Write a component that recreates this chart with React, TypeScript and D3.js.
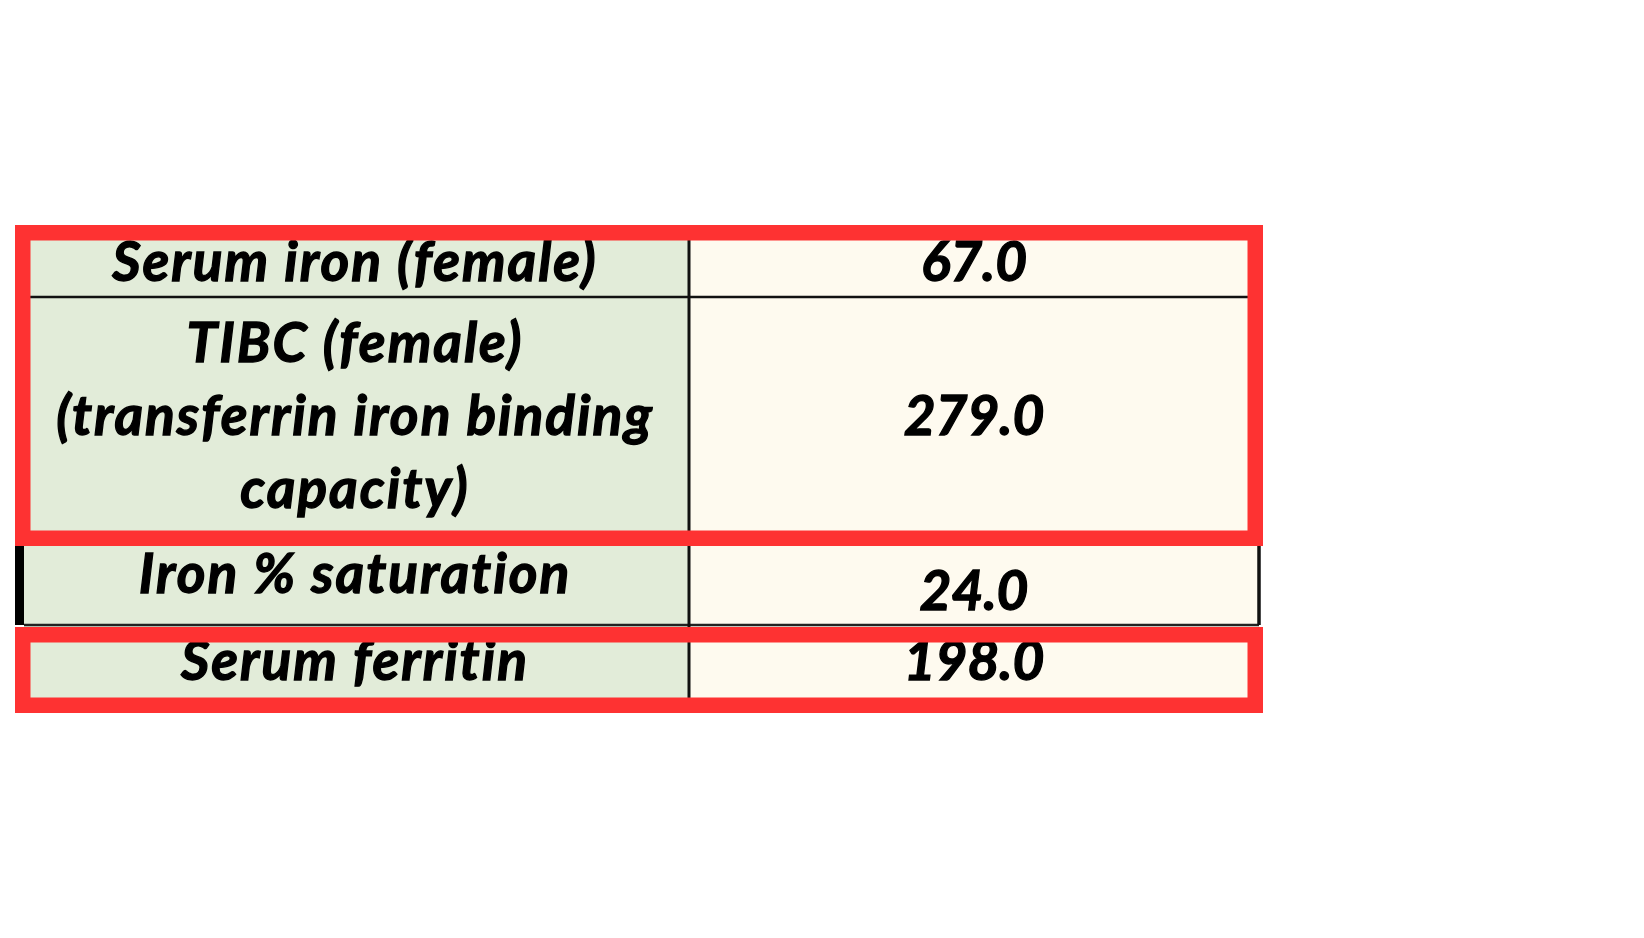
import React, { useEffect, useRef } from 'react';
import * as d3 from 'd3';

// Table content
const labels: string[][] = [
  ['Serum iron (female)'],
  ['TIBC (female)', '(transferrin iron binding', 'capacity)'],
  ['Iron % saturation'],
  ['Serum ferritin'],
];
const values: number[] = [67.0, 279.0, 24.0, 198.0];
// rows wrapped by the red highlight boxes
const highlightGroups: number[][] = [[0, 1], [3]];

const W = 1644;
const H = 938;

const App: React.FC = () => {
  const svgRef = useRef<SVGSVGElement>(null);

  useEffect(() => {
    if (!svgRef.current) return;
    const svg = d3.select(svgRef.current);
    svg.selectAll('*').remove();

    // layout of the table
    const rowTop = [228, 297, 546, 626];
    const rowBottom = [297, 538, 625, 712];
    const labelBase = [[281], [362, 435, 508], [593], [680]];
    const valueBase = [281, 435, 610, 680];

    const x = d3.scaleOrdinal<string, number>().domain(['left', 'mid', 'right']).range([24, 689, 1259]);
    const fmt = d3.format('.1f');

    const green = '#e2ecd9';
    const cream = '#fefaef';
    const red = '#fe3232';
    const font = 'Lato, "Open Sans", sans-serif';

    const rows = svg.append('g');

    // cells
    labels.forEach((_, i) => {
      rows.append('rect')
        .attr('x', x('left'))
        .attr('y', rowTop[i])
        .attr('width', x('mid') - x('left'))
        .attr('height', rowBottom[i] - rowTop[i])
        .attr('fill', green);
      rows.append('rect')
        .attr('x', x('mid'))
        .attr('y', rowTop[i])
        .attr('width', x('right') - x('mid'))
        .attr('height', rowBottom[i] - rowTop[i])
        .attr('fill', cream);
    });

    // grid lines
    rows.append('line')
      .attr('x1', x('left')).attr('x2', x('right'))
      .attr('y1', rowBottom[0]).attr('y2', rowBottom[0])
      .attr('stroke', '#111').attr('stroke-width', 2.5);
    rows.append('line')
      .attr('x1', x('left')).attr('x2', x('right'))
      .attr('y1', rowBottom[2]).attr('y2', rowBottom[2])
      .attr('stroke', '#222').attr('stroke-width', 2.5);
    rows.append('line')
      .attr('x1', x('mid')).attr('x2', x('mid'))
      .attr('y1', rowTop[0]).attr('y2', rowBottom[3])
      .attr('stroke', '#111').attr('stroke-width', 3);
    // borders of the row that is not highlighted
    rows.append('rect')
      .attr('x', 15).attr('y', rowTop[2])
      .attr('width', 9).attr('height', rowBottom[2] - rowTop[2])
      .attr('fill', '#000');
    rows.append('line')
      .attr('x1', x('right')).attr('x2', x('right'))
      .attr('y1', rowTop[2] - 10).attr('y2', rowBottom[2])
      .attr('stroke', '#111').attr('stroke-width', 3.5);

    // text
    const txt = svg.append('g')
      .style('font-family', font)
      .style('font-weight', 'bold')
      .style('font-style', 'italic')
      .style('font-size', '55px')
      .attr('fill', '#000')
      .attr('stroke', '#000')
      .attr('stroke-width', 1.3)
      .attr('text-anchor', 'middle');

    labels.forEach((lines, i) => {
      lines.forEach((line, j) => {
        txt.append('text')
          .attr('x', 355)
          .attr('y', labelBase[i][j])
          .style('letter-spacing', '2px')
          .text(line);
      });
      txt.append('text')
        .attr('x', 974)
        .attr('y', valueBase[i])
        .text(fmt(values[i]));
    });

    // red highlight boxes
    const sw = 15.5;
    highlightGroups.forEach(group => {
      const first = group[0];
      const last = group[group.length - 1];
      const top = first === 0 ? 225 : rowTop[first] + 1;
      const bottom = last === 1 ? 546 : rowBottom[last] + 1;
      svg.append('rect')
        .attr('x', 15 + sw / 2)
        .attr('y', top + sw / 2)
        .attr('width', 1263 - 15 - sw)
        .attr('height', bottom - top - sw)
        .attr('fill', 'none')
        .attr('stroke', red)
        .attr('stroke-width', sw);
    });
  }, []);

  return (
    <svg
      ref={svgRef}
      width={W}
      height={H}
      style={{ position: 'absolute', left: 0, top: 0, background: '#fff' }}
    />
  );
};

export default App;
